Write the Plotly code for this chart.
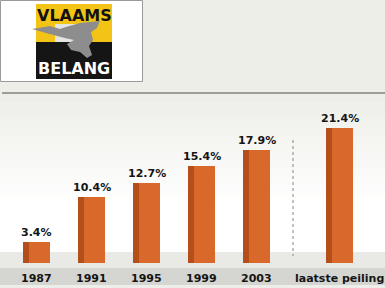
import plotly.graph_objects as go

# ---- data ----
categories = ["1987", "1991", "1995", "1999", "2003", "laatste peiling"]
values = [3.4, 10.4, 12.7, 15.4, 17.9, 21.4]
value_labels = ["3.4%", "10.4%", "12.7%", "15.4%", "17.9%", "21.4%"]

# ---- layout geometry ----
W, H = 385, 288
slot = 55.1          # px between bar centres
first_px = 36.5      # px centre of first bar
k = 6.3              # px per percent
base_px = 263        # baseline (px from top)
bar_w = 0.49
side_w = 0.11

n = len(categories)
x_pos = [i + (0.5 if i == n - 1 else 0) for i in range(n)]
x_min = -first_px / slot
x_max = x_min + W / slot
y_min = -(H - base_px) / k
y_max = base_px / k


def P(x, y):
    return x / W, 1 - y / H


def rect(x0, y0, x1, y1, fill, line_color=None, line_width=0, layer="below"):
    a, b = P(x0, y0)
    c, d = P(x1, y1)
    return dict(type="rect", xref="paper", yref="paper", x0=a, y0=d, x1=c, y1=b,
                fillcolor=fill, layer=layer,
                line=dict(color=line_color or fill, width=line_width))


shapes = []
# page background
shapes.append(rect(0, 0, W, H, "#EEEEE9"))
# gradient below the rule
steps = 14
g0, g1 = 94, 210
for s in range(steps):
    t = s / (steps - 1)
    r = round(238 + (255 - 238) * t)
    g = round(238 + (255 - 238) * t)
    b = round(233 + (255 - 233) * t)
    ya = g0 + (g1 - g0) * s / steps
    yb = g0 + (g1 - g0) * (s + 1) / steps + 0.5
    shapes.append(rect(0, ya, W, yb, f"rgb({r},{g},{b})"))
shapes.append(rect(0, g1, W, 252, "#FFFFFF"))
# bottom bands
shapes.append(rect(0, 252, W, 268, "#E9E9E6"))
shapes.append(rect(0, 268, W, 285, "#D5D5D1"))
shapes.append(rect(0, 285, W, H, "#EDEDE9"))
# horizontal rule
a, b = P(2, 93)
c, d = P(W, 93)
shapes.append(dict(type="line", xref="paper", yref="paper", x0=a, y0=b, x1=c, y1=d,
                   line=dict(color="#83837E", width=1.6), layer="below"))
# dotted separator
a, b = P(293, 140)
c, d = P(293, 256)
shapes.append(dict(type="line", xref="paper", yref="paper", x0=a, y0=b, x1=c, y1=d,
                   line=dict(color="#7A8A90", width=1, dash="dot"), layer="below"))
# logo box
shapes.append(rect(0.5, 0.5, 142.5, 81.5, "#FFFFFF", "#9A9A98", 1))
shapes.append(rect(36, 4, 112, 42, "#F3C316"))
shapes.append(rect(36, 42, 112, 79, "#151515"))
shapes.append(rect(55, 24, 91, 42, "#E4E4E2"))
lion = [(32, 29), (50, 26), (60, 29), (66, 27), (80, 23), (100, 21), (97, 28),
        (91, 32), (93, 40), (89, 46), (92, 55), (87, 58), (80, 52), (71, 50),
        (67, 44), (74, 40), (65, 38), (57, 36), (46, 33)]
path = "M " + " L ".join(f"{P(x, y)[0]:.4f},{P(x, y)[1]:.4f}" for x, y in lion) + " Z"
shapes.append(dict(type="path", xref="paper", yref="paper", path=path,
                   fillcolor="#8D8D8D", line=dict(color="#8D8D8D", width=0), layer="below"))

fig = go.Figure()
fig.add_trace(go.Bar(x=x_pos, y=values, width=bar_w,
                     marker=dict(color="#D9692A", line=dict(width=0)),
                     hoverinfo="skip", showlegend=False))
fig.add_trace(go.Bar(x=x_pos, y=values, width=side_w, offset=-bar_w / 2,
                     marker=dict(color="#B44E1B", line=dict(width=0)),
                     hoverinfo="skip", showlegend=False))

annotations = []
label_font = dict(family="DejaVu Sans, Verdana, sans-serif", size=11, color="#151515", weight="bold")
for xp, v, lab in zip(x_pos, values, value_labels):
    annotations.append(dict(x=xp, y=v, xref="x", yref="y", text=lab, showarrow=False,
                            yanchor="bottom", yshift=1, font=label_font))
for xp, cat in zip(x_pos, categories):
    annotations.append(dict(x=xp, y=P(0, 278)[1], xref="x", yref="paper", text=cat,
                            showarrow=False, yanchor="middle", font=label_font))
logo_font = "DejaVu Sans, sans-serif"
for txt, (lx, ly), col in [("VLAAMS", (74, 15), "#111111"), ("BELANG", (74, 68.5), "#FFFFFF")]:
    px_, py_ = P(lx, ly)
    annotations.append(dict(x=px_, y=py_, xref="paper", yref="paper", text=txt, showarrow=False,
                            xanchor="center", yanchor="middle",
                            font=dict(family=logo_font, size=16, color=col, weight="bold")))

fig.update_layout(
    width=W, height=H, margin=dict(l=0, r=0, t=0, b=0, pad=0),
    paper_bgcolor="#EEEEE9", plot_bgcolor="rgba(0,0,0,0)",
    barmode="overlay", bargap=0,
    xaxis=dict(range=[x_min, x_max], visible=False, fixedrange=True),
    yaxis=dict(range=[y_min, y_max], visible=False, fixedrange=True),
    shapes=shapes, annotations=annotations, showlegend=False,
)

fig.write_html("out.html", config={"displayModeBar": False})
